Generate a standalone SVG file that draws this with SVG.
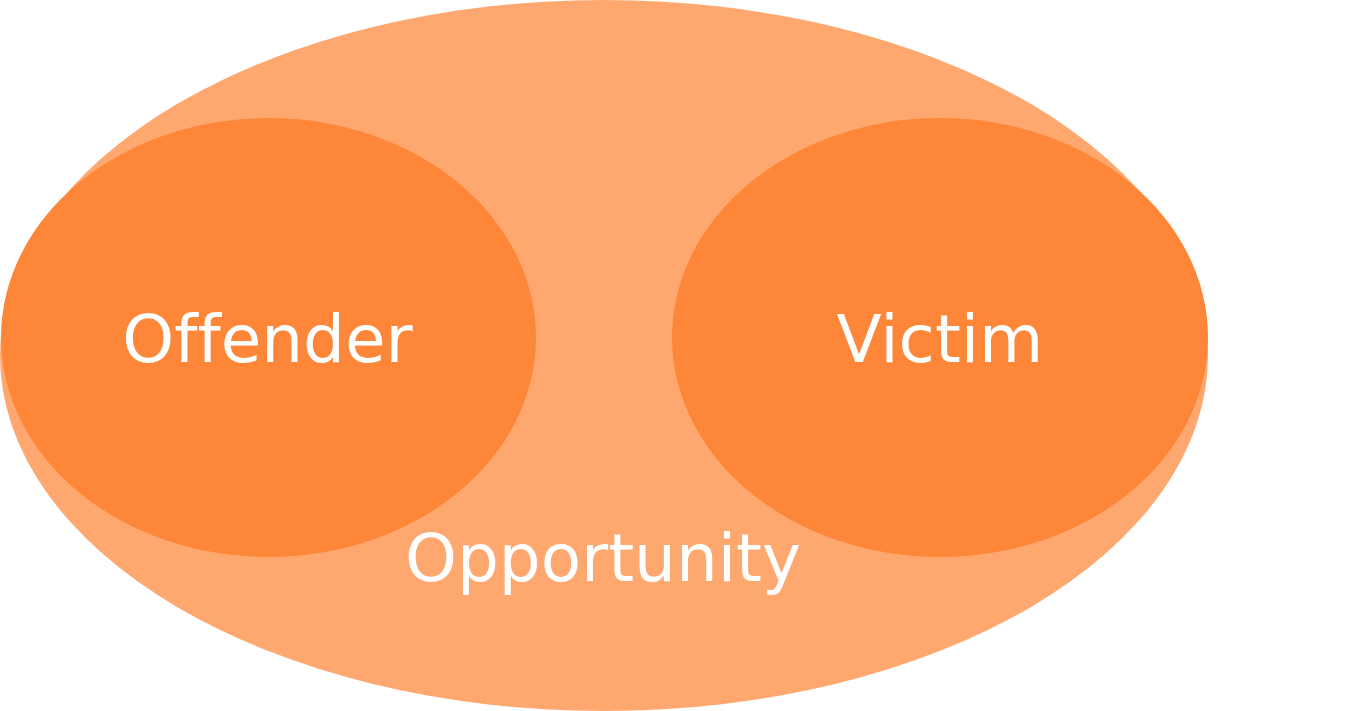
<svg xmlns="http://www.w3.org/2000/svg" width="1358" height="711" viewBox="0 0 1358 711">
<style>
.lbl{font-family:"DejaVu Sans",Verdana,sans-serif;font-size:66px;fill:#FFFFFF;text-anchor:middle;font-variant-ligatures:none;font-feature-settings:"liga" 0}
.inner{fill:#FE8638}
</style>
<rect width="1358" height="711" fill="#FFFFFF"/>
<g id="opportunity">
<ellipse cx="604" cy="355.5" rx="604" ry="355.5" fill="#FEA76F"/>
<text class="lbl" x="603" y="581">Opportunity</text>
</g>
<g id="offender">
<ellipse class="inner" cx="268.5" cy="337.5" rx="267.5" ry="219.5"/>
<text class="lbl" x="267.5" y="362">Offender</text>
</g>
<g id="victim">
<ellipse class="inner" cx="940" cy="337.5" rx="268" ry="219.5"/>
<text class="lbl" x="940" y="362">Victim</text>
</g>
<g id="connectors"/>
</svg>
